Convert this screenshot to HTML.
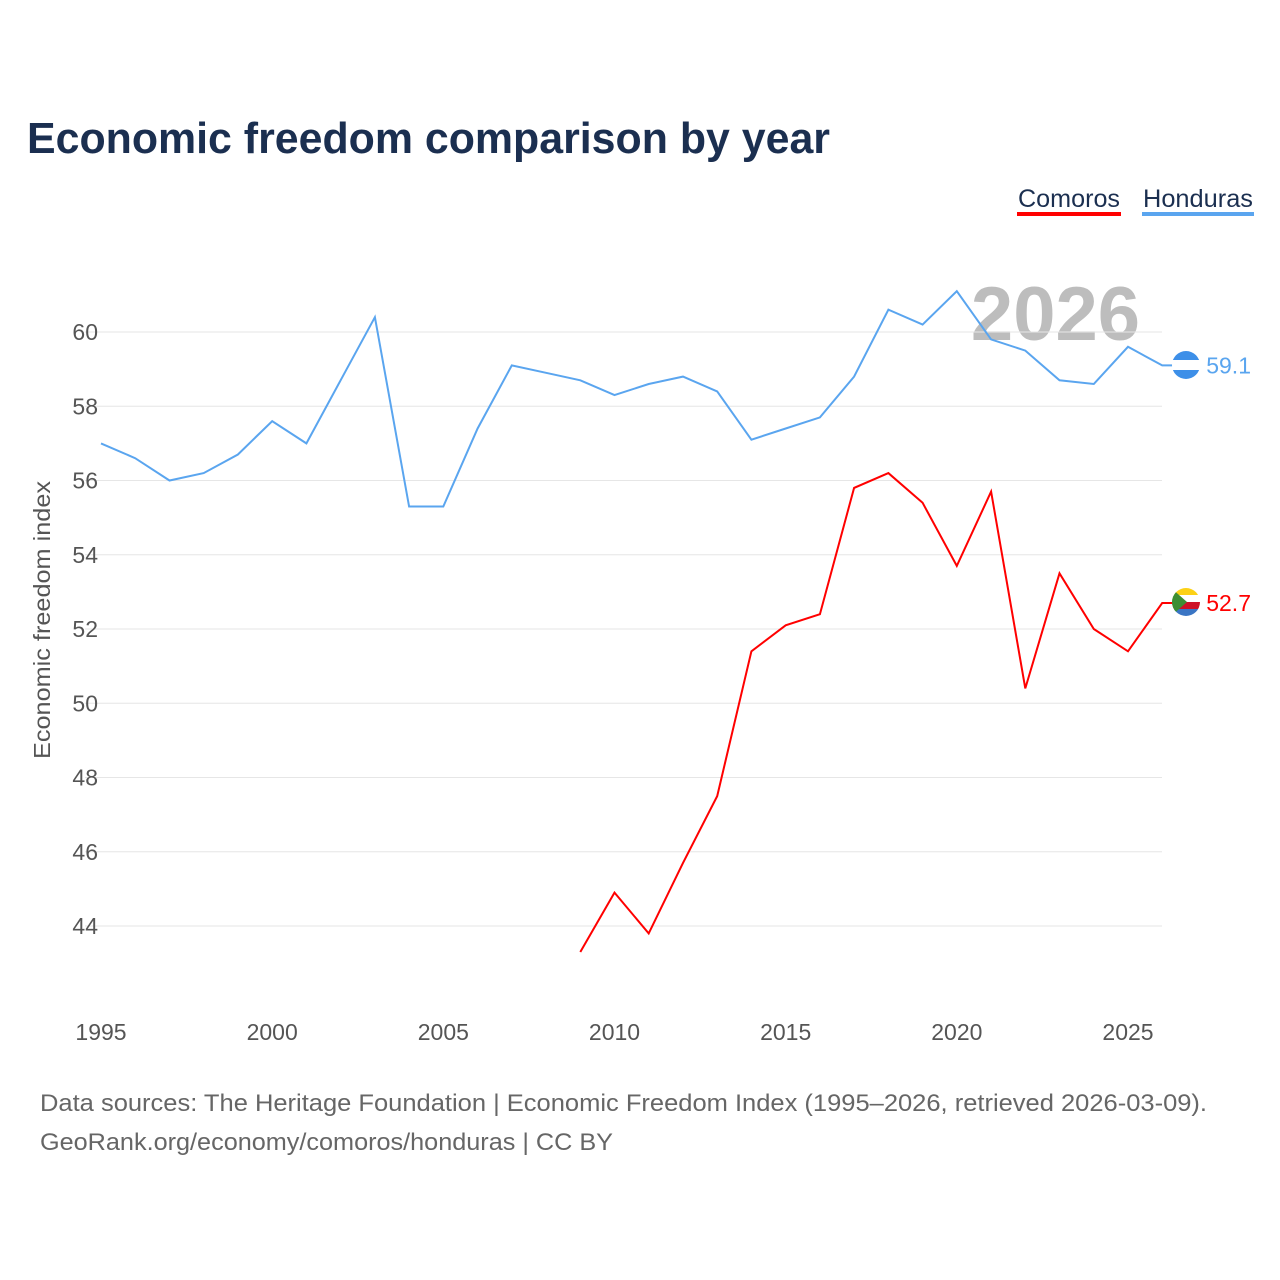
<!DOCTYPE html>
<html><head><meta charset="utf-8">
<style>
body{margin:0;background:#fff;font-family:"Liberation Sans",sans-serif;}
#wrap{position:relative;width:1280px;height:1280px;overflow:hidden;}
</style></head>
<body>
<div id="wrap">
<svg id="chart" width="1280" height="1280">
<defs>
<clipPath id="cH"><circle cx="1186" cy="365" r="14"/></clipPath>
<clipPath id="cC"><circle cx="1186" cy="602" r="14"/></clipPath>
</defs>
<text x="27" y="153" font-size="44" font-weight="bold" fill="#1b2f50" textLength="803" lengthAdjust="spacingAndGlyphs">Economic freedom comparison by year</text>
<g><text x="1018" y="207" font-size="25" fill="#1b2f50" textLength="102" lengthAdjust="spacingAndGlyphs">Comoros</text><rect x="1017" y="212" width="104" height="4" fill="#ff0000"/></g>
<g><text x="1143" y="207" font-size="25" fill="#1b2f50" textLength="110" lengthAdjust="spacingAndGlyphs">Honduras</text><rect x="1142" y="212" width="112" height="4" fill="#5aa5ef"/></g>
<text x="1140" y="340" font-size="76" font-weight="bold" fill="#bdbdbd" text-anchor="end">2026</text>
<g id="grid"></g><g id="ticks"></g><g id="lines"></g>
<text transform="translate(50,620) rotate(-90)" font-size="23" fill="#555" text-anchor="middle" textLength="278" lengthAdjust="spacingAndGlyphs">Economic freedom index</text>
<text x="40" y="1111" font-size="24" fill="#666" textLength="1167" lengthAdjust="spacingAndGlyphs">Data sources: The Heritage Foundation | Economic Freedom Index (1995–2026, retrieved 2026-03-09).</text>
<text x="40" y="1150" font-size="24" fill="#666" textLength="573" lengthAdjust="spacingAndGlyphs">GeoRank.org/economy/comoros/honduras | CC BY</text>
<g clip-path="url(#cH)">
<rect x="1170" y="350" width="32" height="10" fill="#3d8fe8"/><rect x="1170" y="360" width="32" height="10" fill="#fff"/><rect x="1170" y="370" width="32" height="10" fill="#3d8fe8"/>
</g>
<g clip-path="url(#cC)">
<rect x="1170" y="587" width="32" height="8" fill="#fcd116"/><rect x="1170" y="595" width="32" height="7" fill="#fff"/><rect x="1170" y="602" width="32" height="7" fill="#ce1126"/><rect x="1170" y="609" width="32" height="8" fill="#3a75c4"/>
<path d="M1170,587 L1187,602 L1170,617Z" fill="#3d8e33"/>
</g>
</svg></div>
<script>
const hondurasYears=[1995,1996,1997,1998,1999,2000,2001,2002,2003,2004,2005,2006,2007,2008,2009,2010,2011,2012,2013,2014,2015,2016,2017,2018,2019,2020,2021,2022,2023,2024,2025,2026];
const hondurasValues=[57.0,56.6,56.0,56.2,56.7,57.6,57.0,58.7,60.4,55.3,55.3,57.4,59.1,58.9,58.7,58.3,58.6,58.8,58.4,57.1,57.4,57.7,58.8,60.6,60.2,61.1,59.8,59.5,58.7,58.6,59.6,59.1];
const comorosYears=[2009,2010,2011,2012,2013,2014,2015,2016,2017,2018,2019,2020,2021,2022,2023,2024,2025,2026];
const comorosValues=[43.3,44.9,43.8,45.7,47.5,51.4,52.1,52.4,55.8,56.2,55.4,53.7,55.7,50.4,53.5,52.0,51.4,52.7];
const yTicks=[44,46,48,50,52,54,56,58,60];
const xTicks=[1995,2000,2005,2010,2015,2020,2025];
const NS="http://www.w3.org/2000/svg";
const xS=y=>101+(y-1995)*(1128-101)/30;
const yS=v=>332+(60-v)*(926-332)/16;
function mk(t,a,p){const e=document.createElementNS(NS,t);for(const k in a)e.setAttribute(k,a[k]);document.getElementById(p).appendChild(e);return e;}
yTicks.forEach(v=>{
 const l=mk('line',{x1:85,x2:1162,y1:yS(v),y2:yS(v),stroke:'#e6e6e6','stroke-width':1},'grid');
 
 
 const t=mk('text',{x:98,y:yS(v)+8,'font-size':23,fill:'#555','text-anchor':'end'},'ticks');
 t.textContent=v;
 
 
});
xTicks.forEach(y=>{
 const t=mk('text',{x:xS(y),y:1040,'font-size':23,fill:'#555','text-anchor':'middle'},'ticks');
 t.textContent=y;
 
 
});
function series(years,vals,color,name){
 const lx=xS(years[years.length-1]),lv=vals[vals.length-1];
 const d=years.map((y,i)=>(i?'L':'M')+xS(y).toFixed(1)+','+yS(vals[i]).toFixed(1)).join('')+'L'+(lx+10)+','+yS(lv).toFixed(1);
 const p=mk('path',{d:d,fill:'none',stroke:color,'stroke-width':2},'lines');
 
 
 const t=mk('text',{x:lx+44,y:yS(lv)+8,'font-size':23,fill:color},'lines');
 t.textContent=lv.toFixed(1);
 
 
}
series(hondurasYears,hondurasValues,'#5aa5ef','honduras');
series(comorosYears,comorosValues,'#ff0000','comoros');
</script>
</body></html>
